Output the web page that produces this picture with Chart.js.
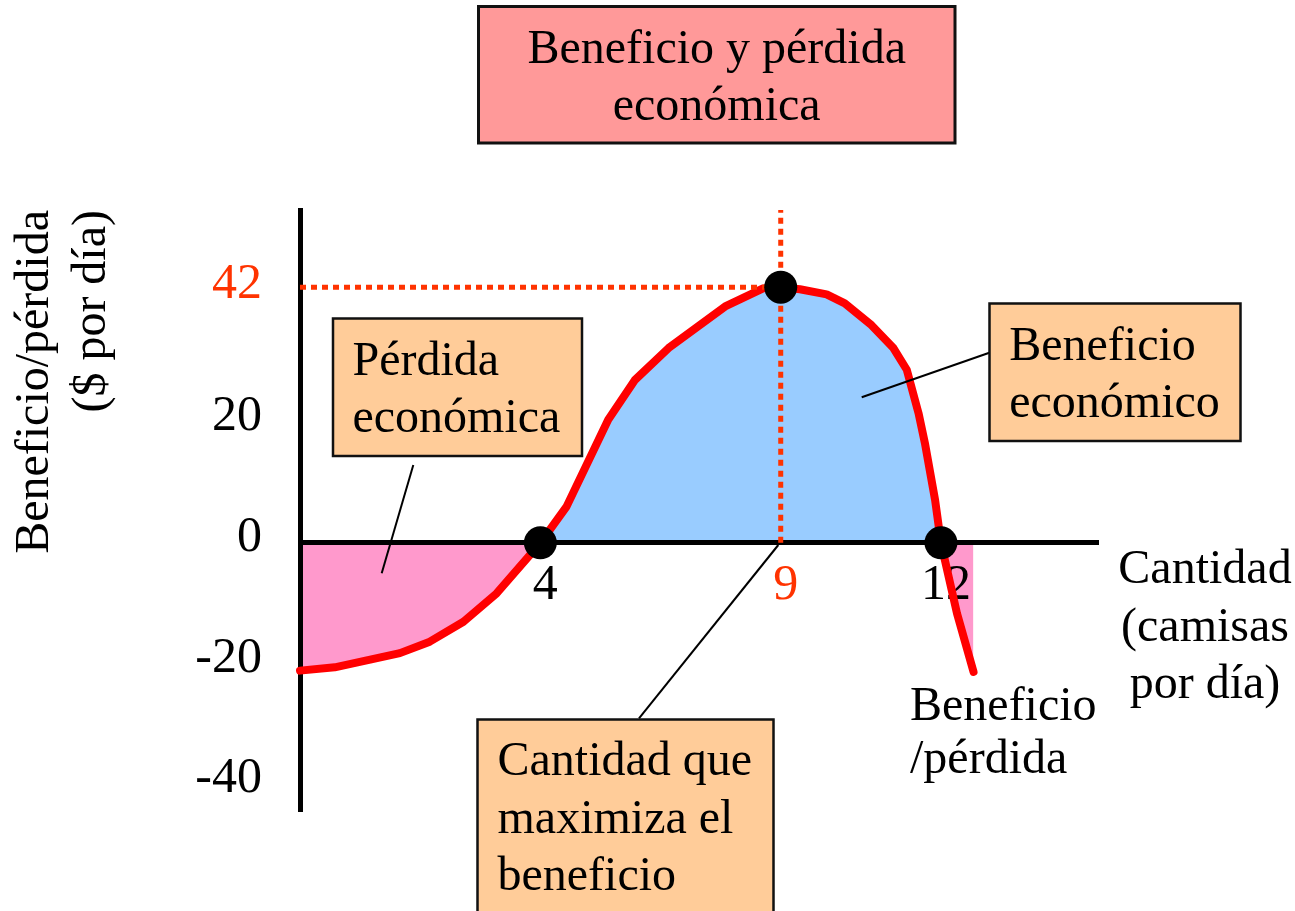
<!DOCTYPE html>
<html>
<head>
<meta charset="utf-8">
<script src="https://cdn.jsdelivr.net/npm/chart.js@4.4.1/dist/chart.umd.min.js"></script>
<style>
  html, body { margin: 0; padding: 0; background: #ffffff; }
  canvas { display: block; }
</style>
</head>
<body>
<canvas id="chart" width="1295" height="911"></canvas>
<script>
// ---------- data (drawing units on the x axis) ----------
const curveX = [0, 0.65, 1.87, 2.43, 3.06, 3.68, 4.25, 4.5, 4.99, 5.77, 6.27, 6.9, 7.96, 8.67, 9.0, 9.36, 9.86, 10.2, 10.7, 11.11, 11.36, 11.58, 11.7, 11.89, 12.0, 12.3, 12.61];
const curveY = [-21.2, -20.65, -18.3, -16.4, -13.1, -8.4, -2.6, 0, 6.0, 20.4, 27.0, 32.3, 39.2, 42.2, 42.4, 42.05, 41.2, 39.7, 36.1, 32.3, 28.7, 21.5, 16.5, 7.1, 0, -11.7, -21.4];

const markerX = [4.5, 9, 12];
const markerY = [0, 42.4, 0];

const peakX = 9;
const peakY = 42.4;

const yTickValues = [42, 20, 0, -20, -40];
const yTickLabels = ['42', '20', '0', '-20', '-40'];
const xTickValues = [4.5, 9, 12];
const xTickLabels = ['4', '9', '12'];
const highlightY = 42;
const highlightX = 9;

const xMin = 0, xMax = 14.94;
const yMin = -44.6, yMax = 55.2;

// ---------- texts ----------
const chartTitle = ['Beneficio y pérdida', 'económica'];
const yAxisTitle = ['Beneficio/pérdida', '($ por día)'];
const xAxisTitle = ['Cantidad', '(camisas', 'por día)'];
const curveLabel = ['Beneficio', '/pérdida'];
const lossLabel = ['Pérdida', 'económica'];
const profitLabel = ['Beneficio', 'económico'];
const maxLabel = ['Cantidad que', 'maximiza el', 'beneficio'];

// ---------- styles ----------
const FAMILY = "'Liberation Serif', 'Times New Roman', serif";
const RED = '#FF0000';
const ORANGE = '#FF3300';
const BLUE_FILL = '#99CCFF';
const PINK_FILL = '#FF99CC';
const PEACH = '#FFCC99';
const TITLE_FILL = '#FF9999';

// annotation layout (pixels)
const notes = {
  title: { box: [478.5, 6.5, 476.5, 136.5], fill: TITLE_FILL, lw: 3, x: 716.7, ys: [63.3, 120], align: 'center', lines: chartTitle },
  loss: { box: [333, 318.5, 249, 137.5], fill: PEACH, lw: 2.5, x: 352.5, ys: [375, 431.7], align: 'left', lines: lossLabel },
  profit: { box: [989.5, 303.5, 251, 137.5], fill: PEACH, lw: 2.5, x: 1009.2, ys: [360, 416.7], align: 'left', lines: profitLabel },
  maxQ: { box: [477.5, 719.5, 296, 220], fill: PEACH, lw: 2.5, x: 497.5, ys: [775, 833.3, 890], align: 'left', lines: maxLabel },
  xTitle: { x: 1205, ys: [583.3, 640.5, 698.3], align: 'center', lines: xAxisTitle },
  curve: { x: 910, ys: [720, 773.3], align: 'left', lines: curveLabel },
  leaders: [
    [413.3, 465, 381.7, 573.3],
    [861.7, 397.3, 989.3, 352.7],
    [778.3, 545, 639, 718.3]
  ]
};

const annotationPlugin = {
  id: 'annotations',
  afterDraw(chart) {
    const ctx = chart.ctx;
    ctx.save();
    ctx.strokeStyle = '#000';
    ctx.lineWidth = 2;
    ctx.lineCap = 'butt';
    notes.leaders.forEach(([x1, y1, x2, y2]) => {
      ctx.beginPath();
      ctx.moveTo(x1, y1);
      ctx.lineTo(x2, y2);
      ctx.stroke();
    });
    const drawNote = (n) => {
      if (n.box) {
        const [bx, by, bw, bh] = n.box;
        ctx.fillStyle = n.fill;
        ctx.fillRect(bx, by, bw, bh);
        ctx.lineWidth = n.lw;
        ctx.strokeStyle = '#111';
        ctx.strokeRect(bx, by, bw, bh);
      }
      ctx.fillStyle = '#000';
      ctx.font = '48px ' + FAMILY;
      ctx.textAlign = n.align;
      ctx.textBaseline = 'alphabetic';
      n.lines.forEach((t, i) => ctx.fillText(t, n.x, n.ys[i]));
    };
    drawNote(notes.title);
    drawNote(notes.loss);
    drawNote(notes.profit);
    drawNote(notes.maxQ);
    drawNote(notes.xTitle);
    drawNote(notes.curve);
    ctx.restore();
  }
};

const curveData = curveX.map((x, i) => ({ x: x, y: curveY[i] }));
const markerData = markerX.map((x, i) => ({ x: x, y: markerY[i] }));

new Chart(document.getElementById('chart'), {
  type: 'line',
  data: {
    datasets: [
      {
        label: 'Beneficio/pérdida',
        data: curveData,
        borderColor: RED,
        borderWidth: 8,
        borderCapStyle: 'round',
        borderJoinStyle: 'round',
        pointRadius: 0,
        tension: 0,
        clip: false,
        fill: { target: 'origin', above: BLUE_FILL, below: PINK_FILL },
        order: 3
      },
      {
        label: 'max-h',
        data: [{ x: xMin, y: peakY }, { x: peakX, y: peakY }],
        borderColor: ORANGE,
        borderWidth: 5,
        borderDash: [6, 5],
        pointRadius: 0,
        fill: false,
        order: 2
      },
      {
        label: 'max-v',
        data: [{ x: peakX, y: 0 }, { x: peakX, y: yMax }],
        borderColor: ORANGE,
        borderWidth: 5,
        borderDash: [6, 5],
        pointRadius: 0,
        fill: false,
        order: 2
      },
      {
        label: 'points',
        data: markerData,
        showLine: false,
        pointRadius: 16.5,
        pointBackgroundColor: '#000',
        pointBorderWidth: 0,
        clip: false,
        order: 1
      }
    ]
  },
  options: {
    responsive: false,
    animation: false,
    devicePixelRatio: 1,
    layout: { padding: { top: 210, right: 197, bottom: 99.3, left: 0 } },
    plugins: {
      legend: { display: false },
      tooltip: { enabled: false },
      title: { display: false },
      filler: { drawTime: 'beforeDraw' }
    },
    scales: {
      x: {
        type: 'linear',
        position: { y: 0 },
        min: xMin,
        max: xMax,
        grid: { display: false, drawTicks: false },
        border: { display: true, color: '#000', width: 5 },
        afterBuildTicks: (s) => { s.ticks = xTickValues.map(v => ({ value: v })); },
        ticks: {
          autoSkip: false,
          maxRotation: 0,
          padding: 18,
          labelOffset: 5,
          font: { family: FAMILY, size: 50, lineHeight: 1 },
          color: (c) => (c.tick && c.tick.value === highlightX) ? ORANGE : '#000',
          callback: (v, i) => xTickLabels[i]
        }
      },
      y: {
        type: 'linear',
        position: 'left',
        min: yMin,
        max: yMax,
        grid: { display: false, drawTicks: false },
        border: { display: true, color: '#000', width: 5 },
        afterBuildTicks: (s) => { s.ticks = yTickValues.map(v => ({ value: v })); },
        afterFit: (s) => { s.width = 300; },
        ticks: {
          autoSkip: false,
          padding: 38,
          labelOffset: -5,
          font: { family: FAMILY, size: 50, lineHeight: 1 },
          color: (c) => (c.tick && c.tick.value === highlightY) ? ORANGE : '#000',
          callback: (v, i) => yTickLabels[i]
        },
        title: {
          display: true,
          text: yAxisTitle,
          align: 'end',
          color: '#000',
          padding: { top: 7, bottom: 0 },
          font: { family: FAMILY, size: 48, lineHeight: 1.18 }
        }
      }
    }
  },
  plugins: [annotationPlugin]
});
</script>
</body>
</html>
